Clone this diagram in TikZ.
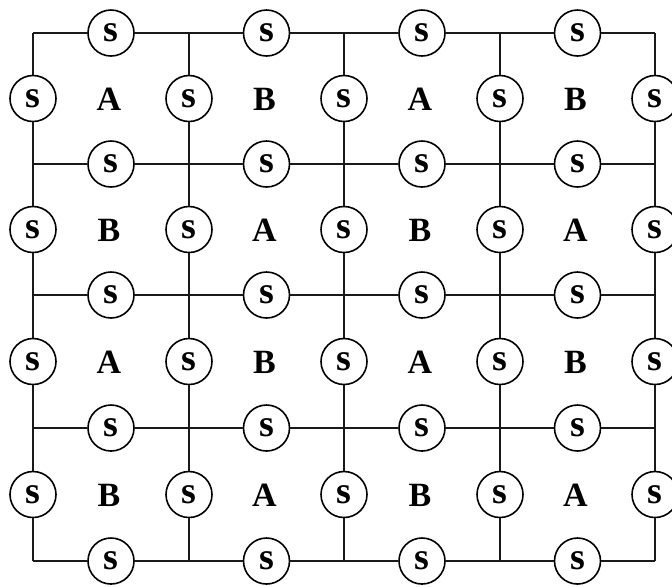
\documentclass[tikz,border=0pt]{standalone}
\usepackage{fontspec}
\setmainfont{Liberation Serif}
\usetikzlibrary{calc}
\tikzset{
  snode/.style={
    draw, circle, fill=white, line width=0.8pt, minimum size=23pt,
    inner sep=0pt, font=\fontsize{19}{21}\selectfont\bfseries
  },
  cellmark/.style={font=\fontsize{17}{19}\selectfont\bfseries},
  wire/.style={line width=0.8pt, black!90}
}

\begin{document}
\begin{tikzpicture}[x=0.5pt, y=-0.5pt]
  \useasboundingbox (0,0) rectangle (672,586);
  % grid junctions
  \foreach \c/\xx in {0/33,1/189,2/344,3/500,4/655} {
    \foreach \r/\yy in {0/33,1/164,2/295,3/428,4/561} {
      \coordinate (j\c\r) at (\xx,\yy);
    }
  }
  % sensors on horizontal lines
  \foreach \c in {0,1,2,3} {
    \pgfmathtruncatemacro\cn{\c+1}
    \foreach \r in {0,1,2,3,4} {
      \node[snode] (h\c\r) at ($(j\c\r)!0.5!(j\cn\r)$) {s};
      \draw[wire] (j\c\r) -- (h\c\r) -- (j\cn\r);
    }
  }
  % sensors on vertical lines
  \foreach \c in {0,1,2,3,4} {
    \foreach \r in {0,1,2,3} {
      \pgfmathtruncatemacro\rn{\r+1}
      \node[snode] (v\c\r) at ($(j\c\r)!0.5!(j\c\rn)$) {s};
      \draw[wire] (j\c\r) -- (v\c\r) -- (j\c\rn);
    }
  }
  % cell labels
  \foreach \c in {0,1,2,3} {
    \foreach \r in {0,1,2,3} {
      \pgfmathtruncatemacro\cn{\c+1}
      \pgfmathtruncatemacro\rn{\r+1}
      \pgfmathtruncatemacro\parity{mod(\c+\r,2)}
      \node[cellmark] (cell\c\r) at ($(j\c\r)!0.5!(j\cn\rn)+(-2,1)$)
        {\ifnum\parity=0 A\else B\fi};
    }
  }
\end{tikzpicture}
\end{document}
